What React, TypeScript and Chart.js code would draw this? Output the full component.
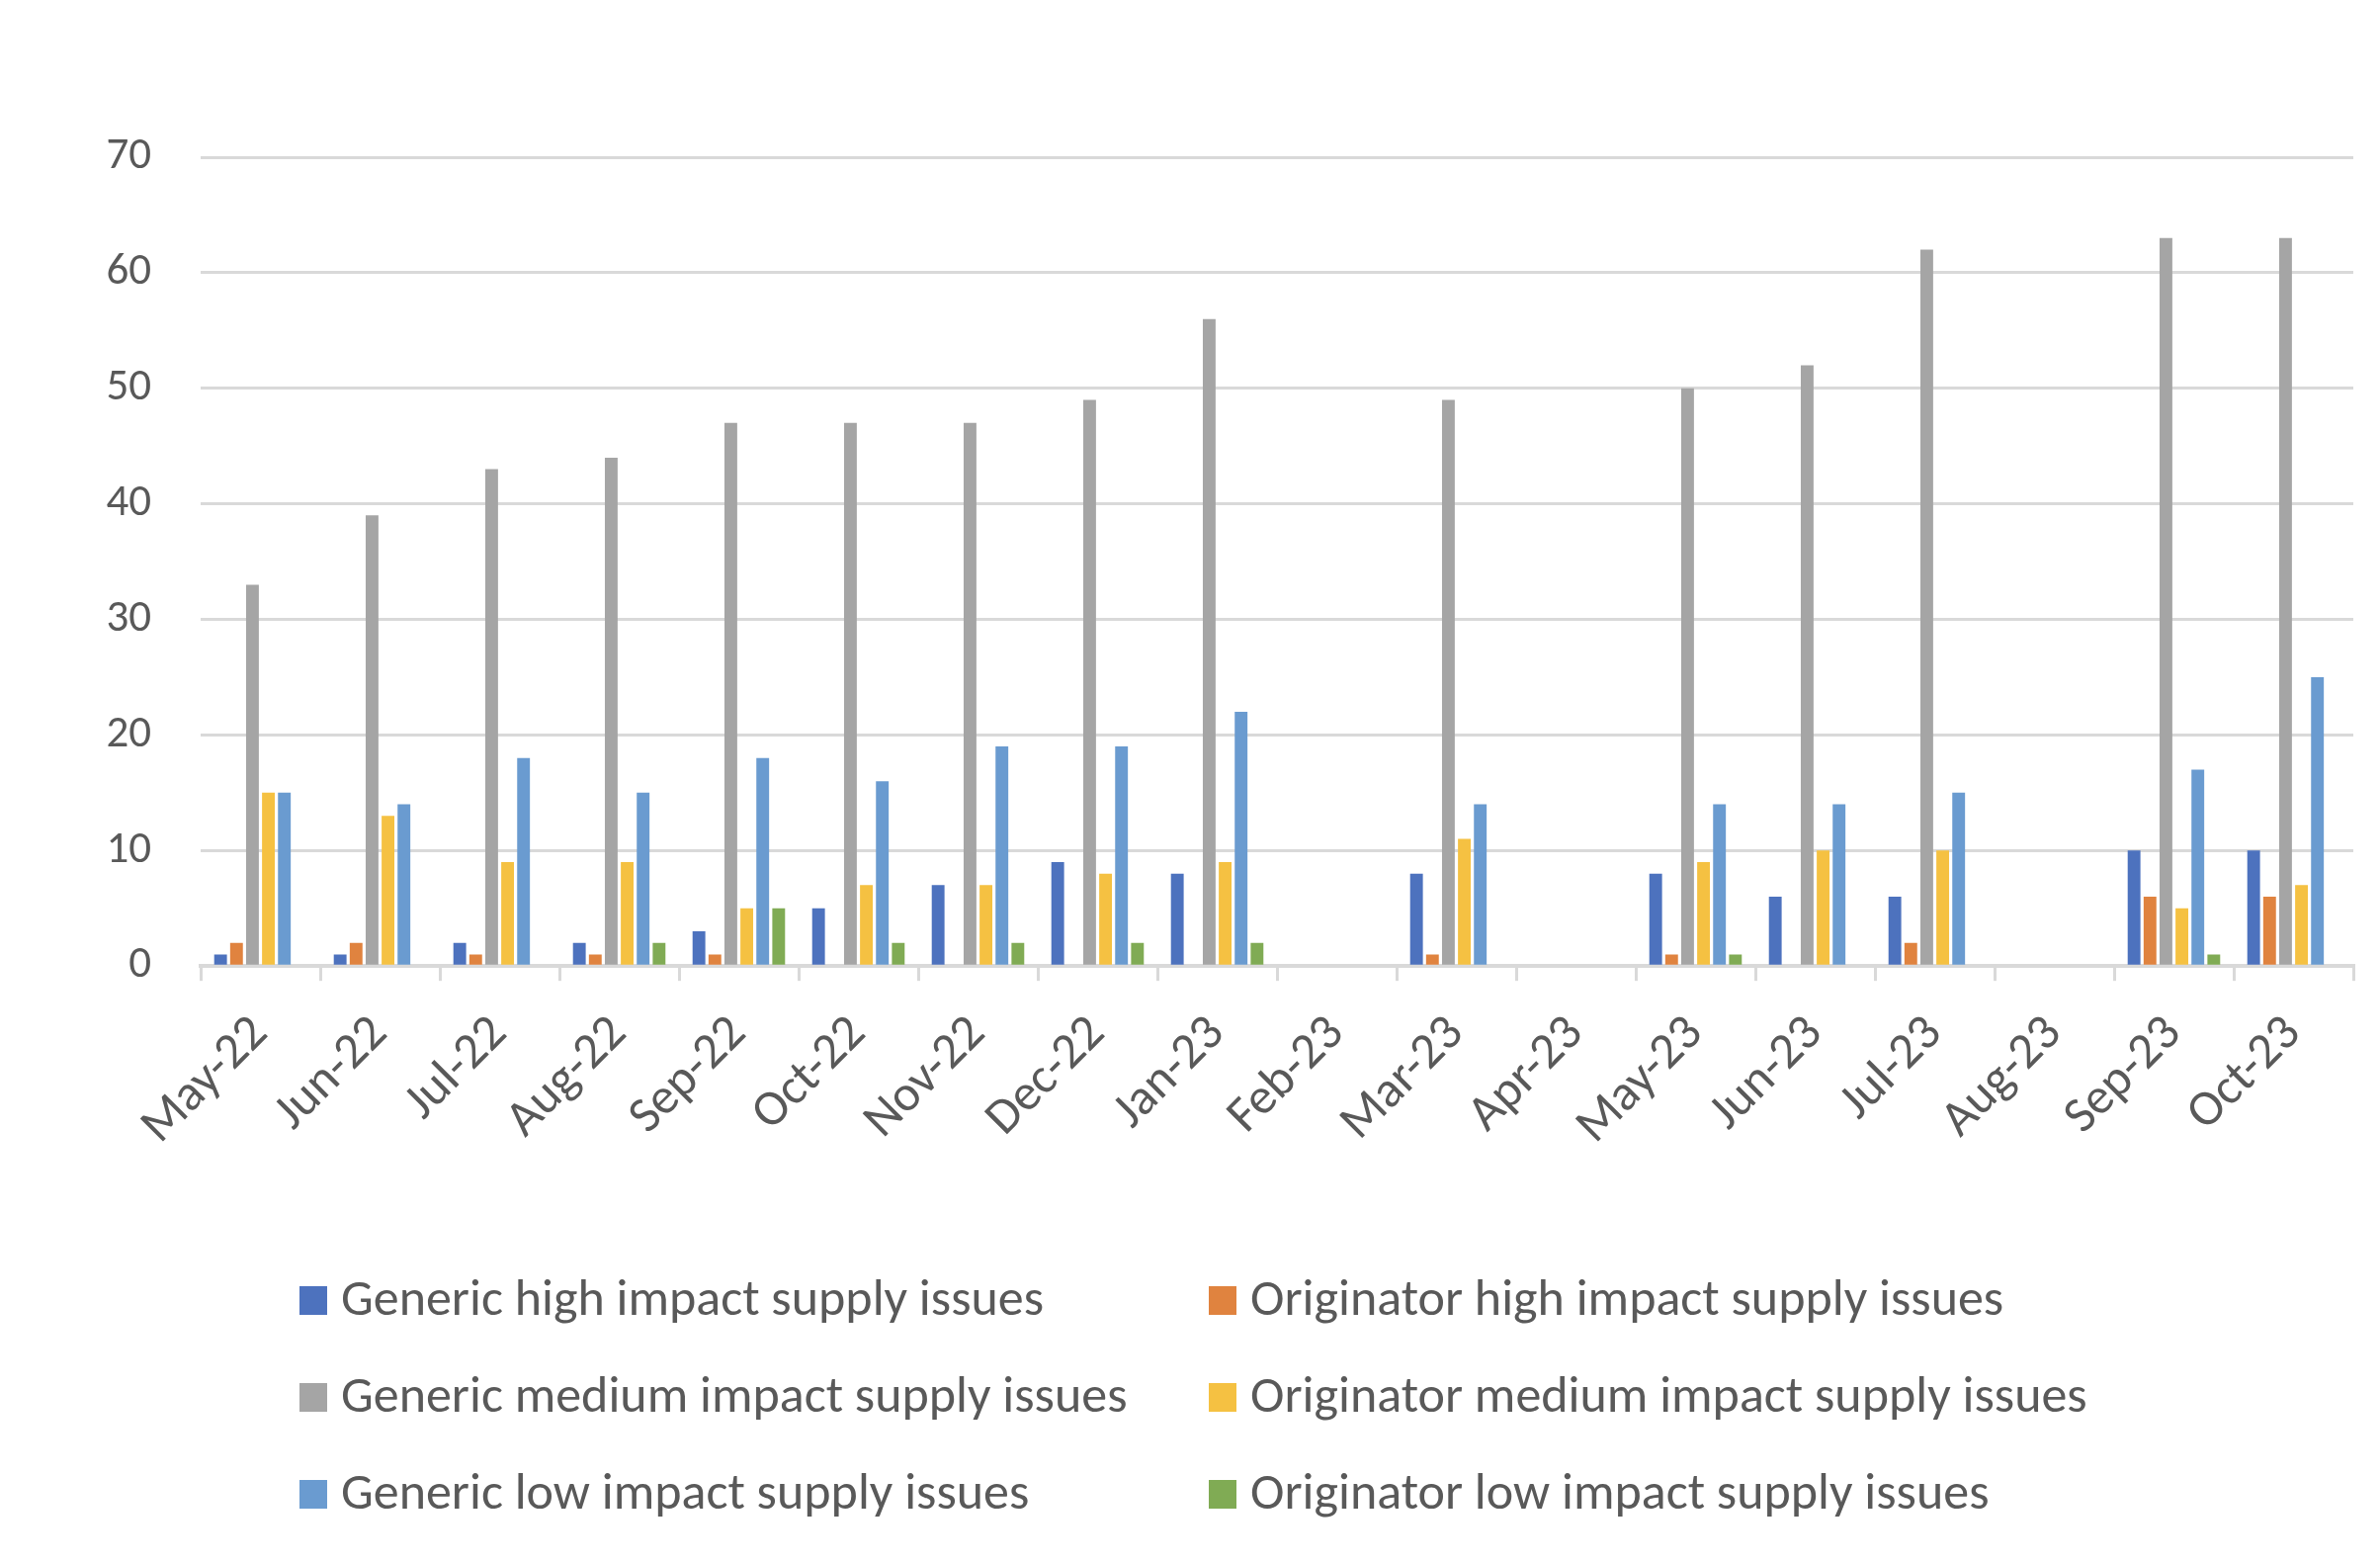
import React, { useEffect, useRef } from "react";
import { Chart, registerables } from "chart.js";

Chart.register(...registerables);

const months = [
  "May-22", "Jun-22", "Jul-22", "Aug-22", "Sep-22", "Oct-22", "Nov-22", "Dec-22", "Jan-23",
  "Feb-23", "Mar-23", "Apr-23", "May-23", "Jun-23", "Jul-23", "Aug-23", "Sep-23", "Oct-23",
];

const genericHigh = [1, 1, 2, 2, 3, 5, 7, 9, 8, 0, 8, 0, 8, 6, 6, 0, 10, 10];
const originatorHigh = [2, 2, 1, 1, 1, 0, 0, 0, 0, 0, 1, 0, 1, 0, 2, 0, 6, 6];
const genericMedium = [33, 39, 43, 44, 47, 47, 47, 49, 56, 0, 49, 0, 50, 52, 62, 0, 63, 63];
const originatorMedium = [15, 13, 9, 9, 5, 7, 7, 8, 9, 0, 11, 0, 9, 10, 10, 0, 5, 7];
const genericLow = [15, 14, 18, 15, 18, 16, 19, 19, 22, 0, 14, 0, 14, 14, 15, 0, 17, 25];
const originatorLow = [0, 0, 0, 2, 5, 2, 2, 2, 2, 0, 0, 0, 1, 0, 0, 0, 1, 0];

const seriesLabels = [
  "Generic high impact supply issues",
  "Originator high impact supply issues",
  "Generic medium impact supply issues",
  "Originator medium impact supply issues",
  "Generic low impact supply issues",
  "Originator low impact supply issues",
];
const seriesValues = [genericHigh, originatorHigh, genericMedium, originatorMedium, genericLow, originatorLow];
const seriesColors = ["#4D72BE", "#E0833F", "#A5A5A5", "#F5C142", "#6A9BD0", "#80AB54"];

const yMin = 0;
const yMax = 70;
const yStep = 10;

const FONT = "Carlito, Lato, 'Open Sans', sans-serif";
const TEXT = "#595959";
const GRID = "#D9D9D9";
const W = 2408;
const H = 1582;

const gridLegend = {
  id: "gridLegend",
  afterDraw(chart: any) {
    const ctx = chart.ctx;
    ctx.save();
    ctx.font = `52px ${FONT}`;
    ctx.textBaseline = "alphabetic";
    ctx.textAlign = "left";
    const cols = [303, 1223];
    const rowTops = [1301, 1399, 1497];
    chart.data.datasets.forEach((ds: any, i: number) => {
      const x = cols[i % 2];
      const y = rowTops[Math.floor(i / 2)];
      ctx.fillStyle = ds.backgroundColor;
      ctx.fillRect(x, y, 28, 29);
      ctx.fillStyle = TEXT;
      ctx.fillText(ds.label, x + 42, y + 29);
    });
    ctx.restore();
  },
};

export default function App() {
  const ref = useRef<HTMLCanvasElement | null>(null);

  useEffect(() => {
    const canvas = ref.current;
    if (!canvas) return;
    const chart = new Chart(canvas, {
      type: "bar",
      data: {
        labels: months,
        datasets: seriesLabels.map((label, i) => ({
          label,
          data: seriesValues[i],
          backgroundColor: seriesColors[i],
          borderWidth: 0,
          categoryPercentage: 0.8,
          barPercentage: 0.8,
        })),
      },
      options: {
        responsive: false,
        animation: false,
        devicePixelRatio: 1,
        layout: { padding: { left: 43, right: 27, top: 159, bottom: 388 } },
        plugins: {
          legend: { display: false },
          tooltip: { enabled: false },
        },
        scales: {
          x: {
            grid: {
              display: true,
              drawOnChartArea: false,
              drawTicks: true,
              tickLength: 15,
              color: GRID,
              lineWidth: 3,
              offset: true,
            },
            border: { display: true, color: GRID, width: 4 },
            ticks: {
              color: TEXT,
              font: { family: FONT, size: 51 },
              minRotation: 45,
              maxRotation: 45,
              padding: 24,
              autoSkip: false,
            },
          },
          y: {
            min: yMin,
            max: yMax,
            afterFit: (scale: any) => {
              scale.width = 160;
            },
            ticks: {
              stepSize: yStep,
              color: TEXT,
              font: { family: FONT, size: 45 },
              padding: 50,
            },
            grid: { color: GRID, lineWidth: 3, drawTicks: false },
            border: { display: false },
          },
        },
      },
      plugins: [gridLegend],
    });
    return () => chart.destroy();
  }, []);

  return (
    <div style={{ position: "fixed", left: 0, top: 0, width: W, height: H, background: "#fff" }}>
      <canvas ref={ref} width={W} height={H} style={{ width: W, height: H, display: "block" }} />
    </div>
  );
}
